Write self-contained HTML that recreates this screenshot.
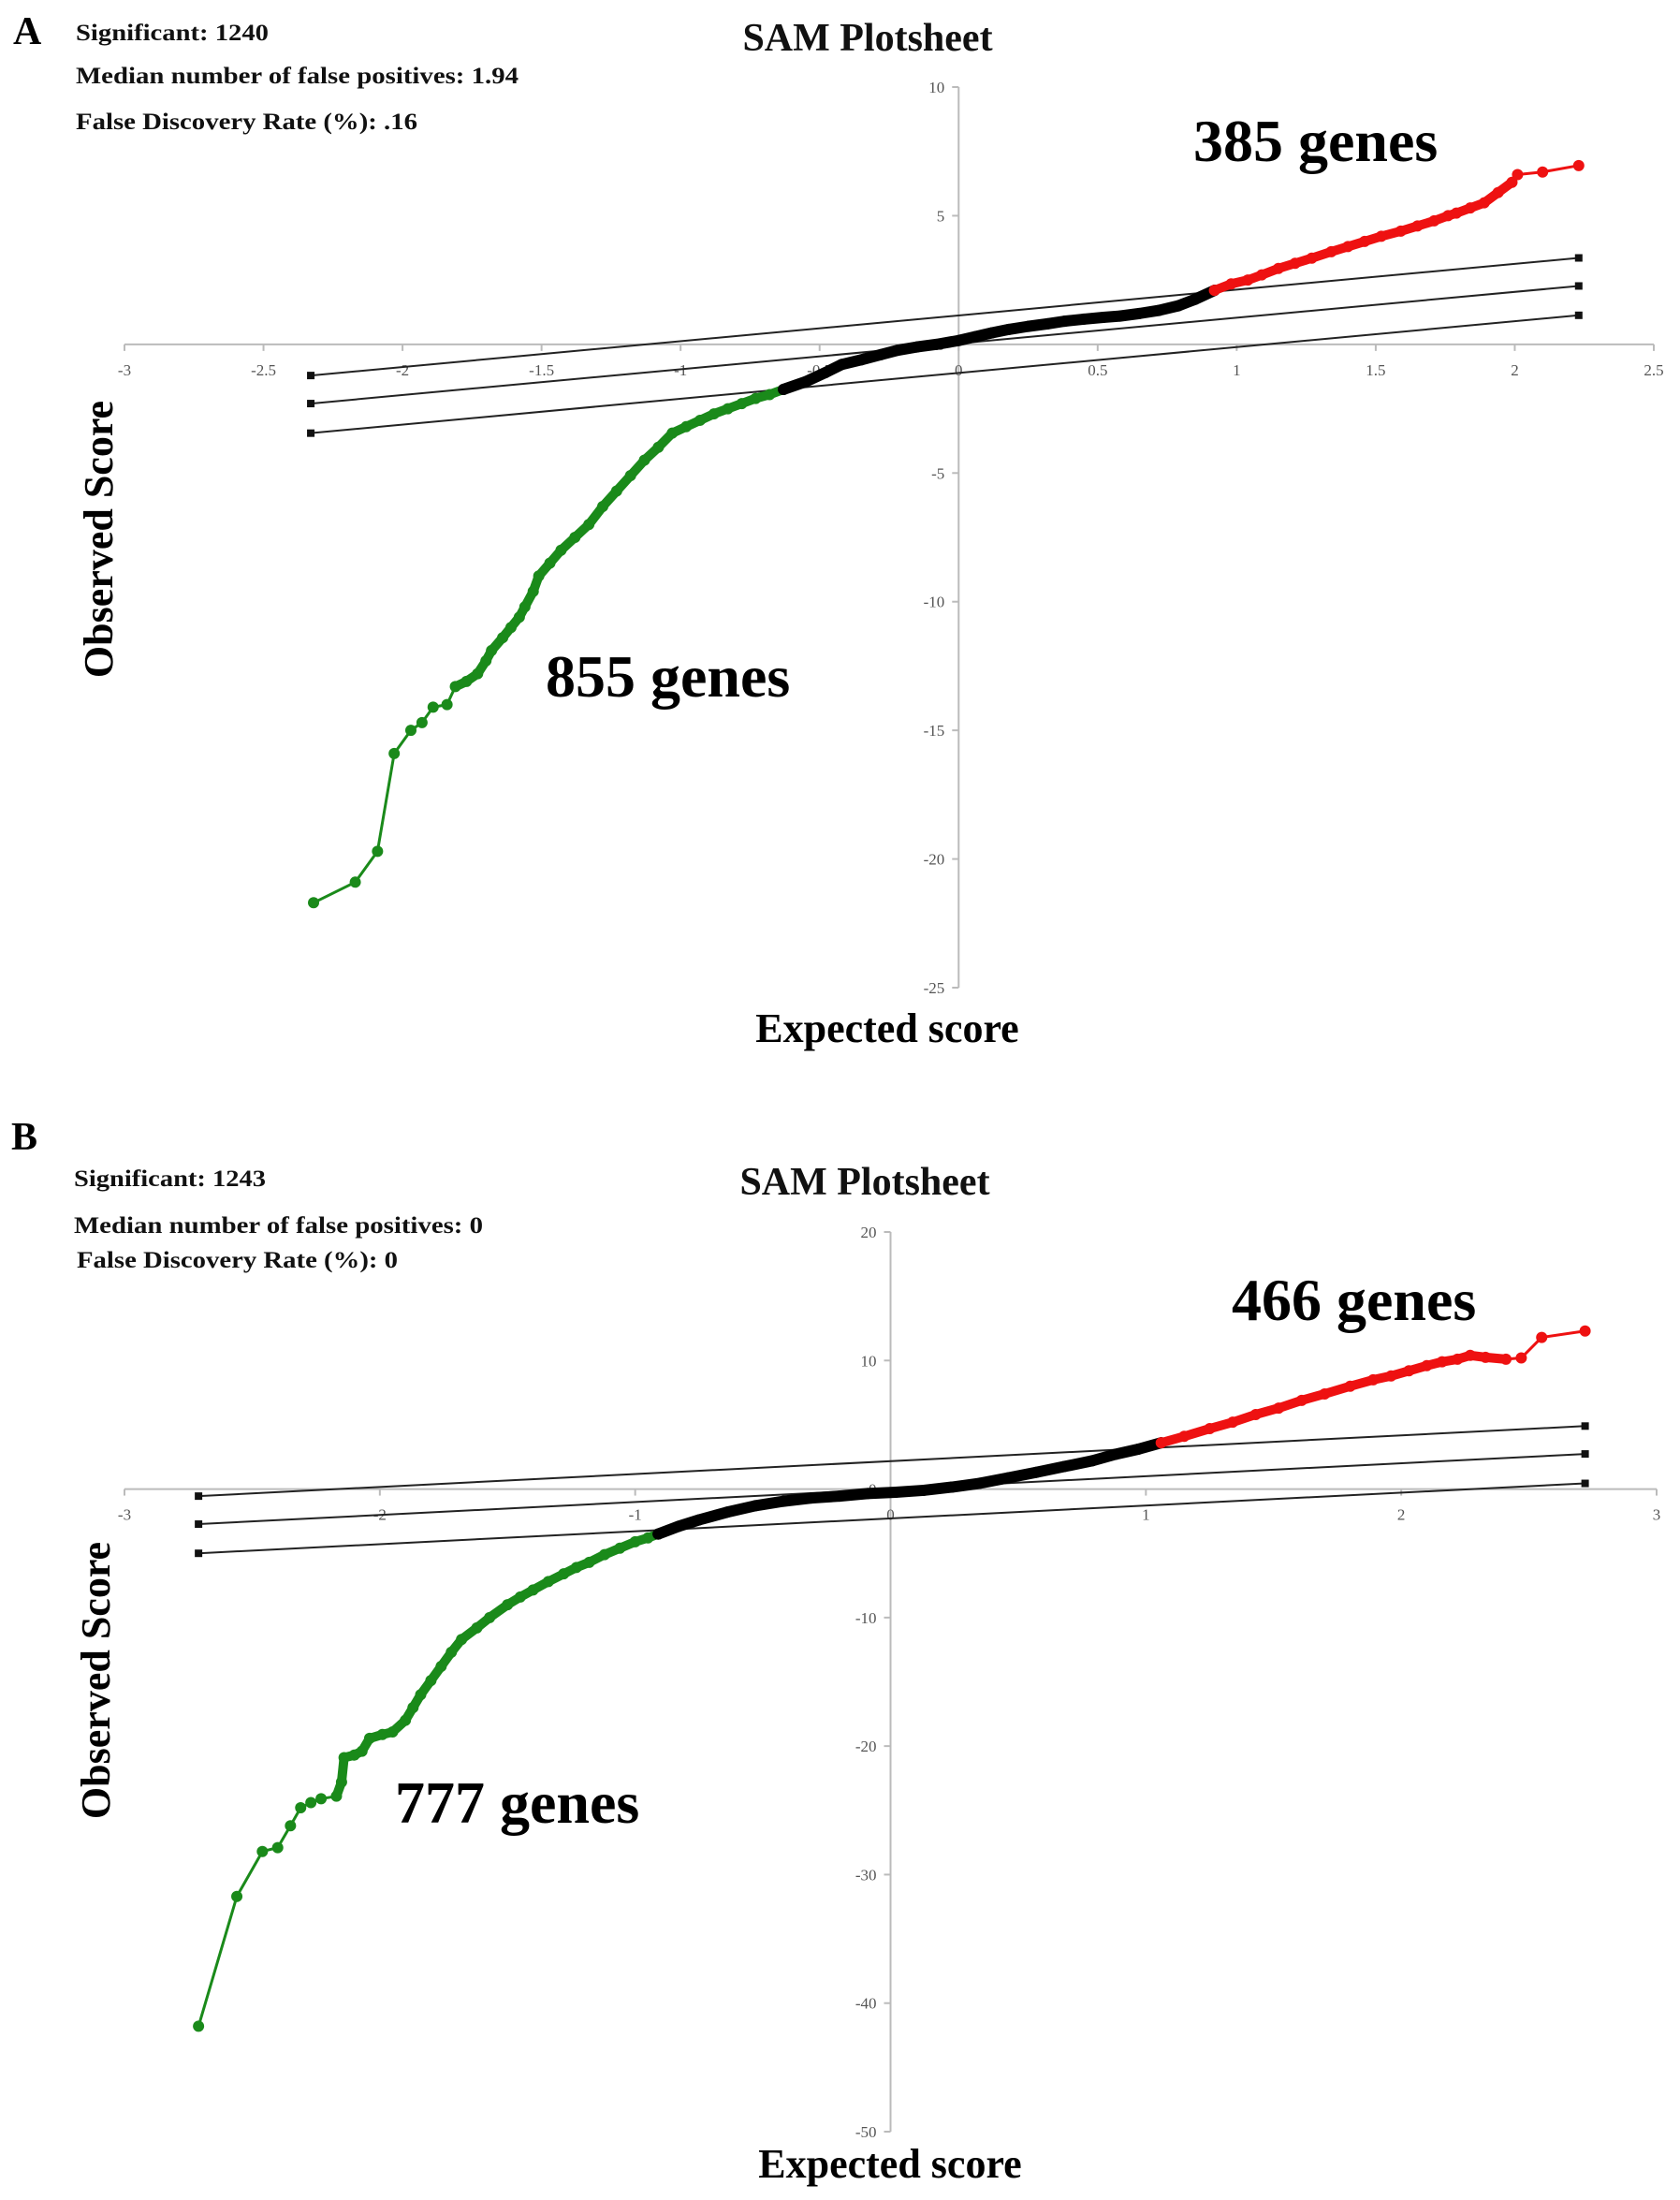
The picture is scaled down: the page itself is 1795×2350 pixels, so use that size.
<!DOCTYPE html>
<html><head><meta charset="utf-8">
<style>
html,body{margin:0;padding:0;background:#fff;}
svg{display:block;}
.tk{font-family:"Liberation Serif",serif;font-size:17px;fill:#555;}
.st{font-family:"Liberation Serif",serif;font-size:25px;font-weight:bold;fill:#111;}
.tt{font-family:"Liberation Serif",serif;font-size:42px;font-weight:bold;fill:#111;}
.gn{font-family:"Liberation Serif",serif;font-size:64px;font-weight:bold;fill:#000;}
.ax{font-family:"Liberation Serif",serif;font-size:44px;font-weight:bold;fill:#000;}
.pl{font-family:"Liberation Serif",serif;font-size:42px;font-weight:bold;fill:#000;}
</style></head>
<body>
<svg id="chart" width="1795" height="2350" xmlns="http://www.w3.org/2000/svg">
<text class="pl" x="14" y="47">A</text>
<text class="st" x="81" y="43" textLength="206" lengthAdjust="spacingAndGlyphs">Significant: 1240</text>
<text class="st" x="81" y="89" textLength="473" lengthAdjust="spacingAndGlyphs">Median number of false positives: 1.94</text>
<text class="st" x="81" y="138" textLength="365" lengthAdjust="spacingAndGlyphs">False Discovery Rate (%): .16</text>
<text class="tt" x="927" y="54" text-anchor="middle">SAM Plotsheet</text>
<text class="gn" x="1275" y="172">385 genes</text>
<text class="gn" x="583" y="744">855 genes</text>
<text class="ax" x="948" y="1113" text-anchor="middle">Expected score</text>
<text class="ax" transform="translate(120,576) rotate(-90)" text-anchor="middle">Observed Score</text>

<text class="pl" x="12" y="1228">B</text>
<text class="st" x="79" y="1267" textLength="205" lengthAdjust="spacingAndGlyphs">Significant: 1243</text>
<text class="st" x="79" y="1317" textLength="437" lengthAdjust="spacingAndGlyphs">Median number of false positives: 0</text>
<text class="st" x="82" y="1354" textLength="343" lengthAdjust="spacingAndGlyphs">False Discovery Rate (%): 0</text>
<text class="tt" x="924" y="1276" text-anchor="middle">SAM Plotsheet</text>
<text class="gn" x="1316" y="1410">466 genes</text>
<text class="gn" x="422" y="1947">777 genes</text>
<text class="ax" x="951" y="2326" text-anchor="middle">Expected score</text>
<text class="ax" transform="translate(117,1795) rotate(-90)" text-anchor="middle">Observed Score</text>
</svg>
<script>
// Panel A data
const aXTicks = [-3,-2.5,-2,-1.5,-1,-0.5,0,0.5,1,1.5,2,2.5];
const aYTicks = [10,5,0,-5,-10,-15,-20,-25];
const aGreenX = [-2.32,-2.17,-2.09,-2.03,-1.97,-1.93,-1.89,-1.84,-1.81,-1.77,-1.73,-1.70,-1.68,-1.64,-1.61,-1.58,-1.56,-1.53,-1.51,-1.47,-1.43,-1.38,-1.33,-1.28,-1.23,-1.18,-1.13,-1.08,-1.03,-0.98,-0.93,-0.88,-0.83,-0.78,-0.73,-0.68,-0.63];
const aGreenY = [-21.7,-20.9,-19.7,-15.9,-15.0,-14.7,-14.1,-14.0,-13.3,-13.1,-12.8,-12.3,-11.9,-11.4,-11.0,-10.6,-10.2,-9.6,-9.0,-8.5,-8.0,-7.5,-7.0,-6.3,-5.7,-5.1,-4.5,-4.0,-3.45,-3.2,-2.95,-2.7,-2.5,-2.3,-2.1,-1.95,-1.75];
const aBlackX = [-0.63,-0.55,-0.48,-0.42,-0.35,-0.28,-0.22,-0.15,-0.08,0,0.06,0.12,0.18,0.25,0.32,0.38,0.45,0.52,0.58,0.65,0.72,0.79,0.85,0.92];
const aBlackY = [-1.75,-1.45,-1.1,-0.78,-0.6,-0.4,-0.23,-0.1,0,0.15,0.3,0.45,0.58,0.7,0.8,0.9,0.98,1.05,1.1,1.2,1.32,1.5,1.75,2.1];
const aRedX = [0.92,0.98,1.04,1.09,1.15,1.21,1.27,1.34,1.40,1.46,1.52,1.59,1.65,1.71,1.76,1.79,1.84,1.89,1.94,1.99,2.01,2.1,2.23];
const aRedY = [2.1,2.35,2.5,2.7,2.95,3.15,3.35,3.6,3.8,4.0,4.2,4.4,4.6,4.8,5.0,5.1,5.3,5.5,5.9,6.3,6.6,6.7,6.95];
const aCutX = [-2.33,2.23];
const aCutTop = [-1.21,3.36];
const aCutMid = [-2.30,2.27];
const aCutBot = [-3.45,1.13];

// Panel B data
const bXTicks = [-3,-2,-1,0,1,2,3];
const bYTicks = [20,10,0,-10,-20,-30,-40,-50];
const bGreenX = [-2.71,-2.56,-2.46,-2.40,-2.35,-2.31,-2.27,-2.23,-2.17,-2.15,-2.14,-2.10,-2.07,-2.04,-1.99,-1.95,-1.90,-1.87,-1.84,-1.80,-1.76,-1.72,-1.68,-1.62,-1.57,-1.50,-1.45,-1.40,-1.34,-1.28,-1.23,-1.18,-1.12,-1.06,-1.00,-0.95,-0.91];
const bGreenY = [-41.8,-31.7,-28.2,-27.9,-26.2,-24.8,-24.4,-24.1,-23.9,-22.8,-20.9,-20.7,-20.4,-19.4,-19.1,-18.9,-18.0,-17.0,-16.0,-14.9,-13.8,-12.7,-11.7,-10.8,-10.0,-9.0,-8.4,-7.85,-7.2,-6.6,-6.1,-5.7,-5.1,-4.6,-4.1,-3.8,-3.5];
const bBlackX = [-0.91,-0.83,-0.75,-0.64,-0.53,-0.42,-0.31,-0.2,-0.09,0.02,0.13,0.24,0.35,0.46,0.57,0.68,0.79,0.88,0.97,1.06];
const bBlackY = [-3.5,-2.9,-2.4,-1.8,-1.3,-0.95,-0.7,-0.55,-0.35,-0.25,-0.1,0.15,0.45,0.87,1.3,1.75,2.2,2.7,3.1,3.6];
const bRedX = [1.06,1.15,1.25,1.34,1.43,1.52,1.61,1.70,1.80,1.89,1.96,2.03,2.1,2.16,2.22,2.27,2.33,2.41,2.47,2.55,2.72];
const bRedY = [3.6,4.1,4.7,5.2,5.8,6.3,6.9,7.4,8.0,8.5,8.8,9.2,9.6,9.9,10.1,10.4,10.25,10.1,10.2,11.8,12.3];
const bCutX = [-2.71,2.72];
const bCutTop = [-0.55,4.9];
const bCutMid = [-2.73,2.73];
const bCutBot = [-5.0,0.44];

const NS = "http://www.w3.org/2000/svg";
const svg = document.getElementById('chart');
function mk(tag, attrs){const e=document.createElementNS(NS,tag);for(const k in attrs)e.setAttribute(k,attrs[k]);svg.appendChild(e);return e;}

function drawPanel(p, px, cfg){
  const sx = v => cfg.x0 + (v - cfg.xmin) * (cfg.x1 - cfg.x0) / (cfg.xmax - cfg.xmin);
  const sy = v => cfg.y0 + (cfg.ymax - v) * (cfg.y1 - cfg.y0) / (cfg.ymax - cfg.ymin);
  const zx = sx(0), zy = sy(0);
  let e = mk('line',{x1:cfg.x0,y1:zy,x2:cfg.x1,y2:zy,stroke:'#bbb','stroke-width':2});
  
  
  e = mk('line',{x1:zx,y1:cfg.y0,x2:zx,y2:cfg.y1,stroke:'#bbb','stroke-width':2});
  
  
  p.xt.forEach(t=>{
    const x=sx(t);
    mk('line',{x1:x,y1:zy,x2:x,y2:zy+7,stroke:'#bbb','stroke-width':2});
    const tx=mk('text',{x:x,y:zy+33,'text-anchor':'middle',class:'tk'});
    tx.textContent=String(t);
    
    
  });
  p.yt.forEach(t=>{
    const y=sy(t);
    mk('line',{x1:zx-7,y1:y,x2:zx,y2:y,stroke:'#bbb','stroke-width':2});
    const tx=mk('text',{x:zx-15,y:y+6,'text-anchor':'end',class:'tk'});
    tx.textContent=String(t);
    
    
  });
  [[p.cT,'upper'],[p.cM,'middle'],[p.cB,'lower']].forEach(([ys,nm])=>{
    const l=mk('line',{x1:sx(p.cX[0]),y1:sy(ys[0]),x2:sx(p.cX[1]),y2:sy(ys[1]),stroke:'#222','stroke-width':2});
    
    
    for(let i=0;i<2;i++){
      const r=mk('rect',{x:sx(p.cX[i])-4,y:sy(ys[i])-4,width:8,height:8,fill:'#111'});
      
      
    }
  });
  [[p.gX,p.gY,'#1a8a1a','down-genes'],[p.kX,p.kY,'#000','null-genes'],[p.rX,p.rY,'#ee1111','up-genes']].forEach(([xs,ys,col,nm])=>{
    const pts=xs.map((v,i)=>sx(v)+','+sy(ys[i])).join(' ');
    const pl=mk('polyline',{points:pts,fill:'none',stroke:col,'stroke-width':3,'stroke-linejoin':'round','stroke-linecap':'round'});
    
    
    // dense thick band for the crowded part (skip sparse tail segments)
    const start = nm==='down-genes'?8:0;
    const end = nm==='up-genes'?xs.length-3:xs.length;
    const pts2=xs.slice(start,end).map((v,i)=>sx(v)+','+sy(ys[i+start])).join(' ');
    const band=mk('polyline',{points:pts2,fill:'none',stroke:col,'stroke-width':nm==='null-genes'?12:10,'stroke-linejoin':'round','stroke-linecap':'round'});
    
    
    xs.forEach((v,i)=>{
      const c=mk('circle',{cx:sx(v),cy:sy(ys[i]),r:6,fill:col});
      
      
    });
  });
}

drawPanel({xt:aXTicks,yt:aYTicks,gX:aGreenX,gY:aGreenY,kX:aBlackX,kY:aBlackY,rX:aRedX,rY:aRedY,cX:aCutX,cT:aCutTop,cM:aCutMid,cB:aCutBot},
  'panel-a',{x0:133,x1:1767,xmin:-3,xmax:2.5,y0:93,y1:1055,ymin:-25,ymax:10});
drawPanel({xt:bXTicks,yt:bYTicks,gX:bGreenX,gY:bGreenY,kX:bBlackX,kY:bBlackY,rX:bRedX,rY:bRedY,cX:bCutX,cT:bCutTop,cM:bCutMid,cB:bCutBot},
  'panel-b',{x0:133,x1:1770,xmin:-3,xmax:3,y0:1316,y1:2277,ymin:-50,ymax:20});
</script>
</body></html>
